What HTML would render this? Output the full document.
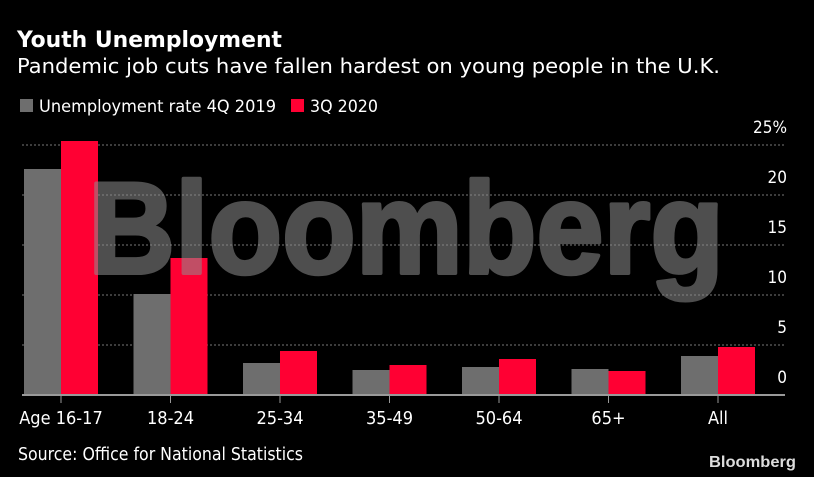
<!DOCTYPE html>
<html><head><meta charset="utf-8"><style>
html,body{margin:0;padding:0;background:#000;}
svg{display:block;}
text{font-family:"DejaVu Sans Condensed","DejaVu Sans","Liberation Sans",sans-serif;fill:#fff;}
</style></head><body>
<svg id="chart" width="814" height="477" viewBox="0 0 814 477">
<rect width="814" height="477" fill="#000"/>
<text x="17" y="47" font-size="22" font-weight="bold" textLength="265" lengthAdjust="spacingAndGlyphs">Youth Unemployment</text>
<text x="17" y="73" font-size="20" textLength="703" lengthAdjust="spacingAndGlyphs">Pandemic job cuts have fallen hardest on young people in the U.K.</text>
<g>
<rect x="20" y="99" width="13" height="13" fill="#6e6e6e"/>
<text x="39" y="112" font-size="17" textLength="237" lengthAdjust="spacingAndGlyphs">Unemployment rate 4Q 2019</text>
<rect x="291" y="99" width="13" height="13" fill="#ff0033"/>
<text x="310" y="112" font-size="17" textLength="68" lengthAdjust="spacingAndGlyphs">3Q 2020</text>
</g>
<g id="grid"></g>
<g id="bars"></g>
<text x="88" y="273" font-size="130" textLength="636" lengthAdjust="spacingAndGlyphs" style="font-family:'Liberation Sans',sans-serif;font-weight:bold;fill:#8f8f8f;stroke:#8f8f8f;stroke-width:4;stroke-linejoin:round;opacity:0.55">Bloomberg</text>
<g id="axis"></g>
<text x="18" y="460" font-size="18" textLength="285" lengthAdjust="spacingAndGlyphs">Source: Office for National Statistics</text>
<text x="709" y="467" font-size="16" textLength="87" lengthAdjust="spacingAndGlyphs" style="font-family:'Liberation Sans',sans-serif;font-weight:bold;fill:#ddd">Bloomberg</text>
</svg>
<script>
const categories = ["Age 16-17","18-24","25-34","35-49","50-64","65+","All"];
const values2019 = [22.6,10.1,3.2,2.5,2.8,2.6,3.9];
const values2020 = [25.4,13.7,4.4,3.0,3.6,2.4,4.8];
const yTicks = [0,5,10,15,20,25];
const yTickLabels = ["0","5","10","15","20","25%"];

const NS = "http://www.w3.org/2000/svg";
const plotL = 22, plotR = 785, y0 = 395, y25 = 145;
const groupW = 109.5, firstCenter = 61, barW = 37;
function yScale(v){ return y0 - (v/25)*(y0-y25); }
function xCenter(i){ return firstCenter + i*groupW; }
function mk(tag, attrs, parent){ const e=document.createElementNS(NS,tag); for(const k in attrs) e.setAttribute(k,attrs[k]); parent.appendChild(e); return e; }

const grid = document.getElementById('grid');
yTicks.forEach((t,i)=>{
  const y = yScale(t);
  if(t>0){
    const l = mk('line',{x1:plotL,x2:plotR,y1:y,y2:y,stroke:'#777','stroke-width':1,'stroke-dasharray':'2,2'},grid);
    
    
  }
  const tx = mk('text',{x:787,y:y-12,'font-size':17,'text-anchor':'end'},grid);
  tx.textContent = yTickLabels[i];
  
  
});

const bars = document.getElementById('bars');
categories.forEach((c,i)=>{
  const cx = xCenter(i);
  const a = mk('rect',{x:cx-barW,y:yScale(values2019[i]),width:barW,height:y0-yScale(values2019[i]),fill:'#6e6e6e'},bars);
  
  
  const b = mk('rect',{x:cx,y:yScale(values2020[i]),width:barW,height:y0-yScale(values2020[i]),fill:'#ff0033'},bars);
  
  
});

const axis = document.getElementById('axis');
const base = mk('line',{x1:plotL,x2:plotR,y1:y0,y2:y0,stroke:'#999','stroke-width':2},axis);


categories.forEach((c,i)=>{
  const cx = xCenter(i);
  const t = mk('line',{x1:cx,x2:cx,y1:y0,y2:y0+8,stroke:'#999','stroke-width':1},axis);
  
  
  const tx = mk('text',{x:cx,y:424,'font-size':18,'text-anchor':'middle'},axis);
  tx.textContent = c;
  
  
});
</script>
</body></html>
